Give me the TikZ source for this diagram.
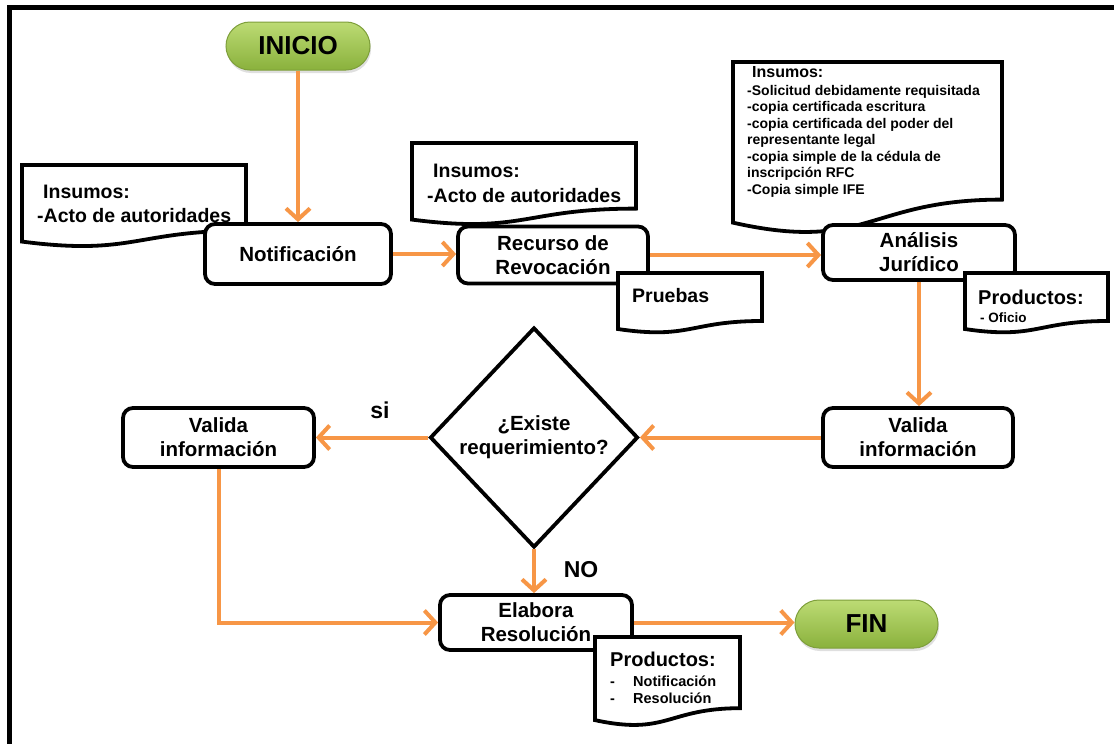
\documentclass[tikz,border=0pt]{standalone}
\usepackage{fontspec}
\setmainfont{Liberation Sans}
\usetikzlibrary{arrows.meta,shapes.geometric,shapes.misc,shadows}
\definecolor{flowarrow}{HTML}{F79646}
\definecolor{pilltop}{HTML}{BCDB74}
\definecolor{pillbot}{HTML}{8AB13C}
\definecolor{pilledge}{HTML}{7E9F3B}

% flowchart "document" shape: left x, top y, right x, height
\newcommand{\flowdoc}[4]{%
  \filldraw[docline] (#1,#2) -- (#3,#2) -- (#3,{#2+0.80*#4})
    .. controls ({(#1+#3)/2},{#2+0.80*#4}) and ({(#1+#3)/2},{#2+1.11*#4})
    .. (#1,{#2+0.934*#4}) -- cycle;}

\begin{document}
\begin{tikzpicture}[x=1pt,y=-1pt,
  docline/.style={draw=black, fill=white, line width=3.8pt, line join=miter},
  proc/.style={draw=black, line width=3.8pt, rounded corners=10pt, fill=white,
    align=center, inner sep=0pt, font=\fontsize{20.5}{24}\selectfont\bfseries},
  pill/.style={rounded rectangle, draw=pilledge, line width=1pt,
    top color=pilltop, bottom color=pillbot, inner sep=0pt,
    minimum height=48pt, font=\fontsize{26}{30}\selectfont\bfseries,
    drop shadow={opacity=0.25, shadow xshift=1pt, shadow yshift=-3pt}},
  decision/.style={diamond, draw=black, line width=3.8pt, fill=white,
    inner sep=0pt, minimum width=208pt, minimum height=220pt, align=center,
    font=\fontsize{20.5}{24}\selectfont\bfseries},
  flow/.style={draw=flowarrow, line width=4pt,
    -{Straight Barb[length=11pt,width=24pt]}},
  doctxt/.style={anchor=base west, inner sep=0pt,
    font=\fontsize{19.5}{24}\selectfont\bfseries},
  smalltxt/.style={anchor=base west, inner sep=0pt,
    font=\fontsize{14}{16}\selectfont\bfseries},
  tag/.style={inner sep=0pt, font=\fontsize{23}{26}\selectfont\bfseries}]

\useasboundingbox (0,0) rectangle (1114,744);
\clip (0,0) rectangle (1114,744);
\fill[white] (0,0) rectangle (1114,744);

% outer frame
\draw[line width=5pt] (9.5,7.5) rectangle (1130,770);

% input documents lying under the process boxes
\flowdoc{22}{165}{246}{82}
\node[doctxt] (ins1a) at (43,198) {Insumos:};
\node[doctxt] (ins1b) at (37,222) {-Acto de autoridades};

\flowdoc{412}{143}{636}{82}
\node[doctxt] (ins2a) at (433,177) {Insumos:};
\node[doctxt] (ins2b) at (427,202) {-Acto de autoridades};

\flowdoc{733}{62}{1002}{172}
\node[anchor=base west, inner sep=0pt, font=\fontsize{16}{18}\selectfont\bfseries]
  (ins3) at (752,77) {Insumos:};
\foreach \t [count=\i] in {-Solicitud debidamente requisitada,
    -copia certificada escritura, -copia certificada del poder del,
    representante legal, -copia simple de la cédula de,
    inscripción RFC, -Copia simple IFE}
  \node[smalltxt] (ins3-\i) at (747,{78.5+16.5*\i}) {\t};

% terminals
\node[pill, minimum width=144pt] (inicio) at (298,46) {INICIO};
\node[pill, minimum width=143pt] (fin) at (866.5,624) {FIN};

% process steps
\node[proc, minimum width=186pt, minimum height=60pt] (noti) at (298,254) {Notificación};
\node[proc, minimum width=190pt, minimum height=57pt] (recurso) at (553,255) {Recurso de\\Revocación};
\node[proc, minimum width=192pt, minimum height=55pt] (analisis) at (919,252.5) {Análisis\\Jurídico};
\node[proc, minimum width=190pt, minimum height=59pt] (valR) at (918,437.5) {Valida\\información};
\node[decision] (dec) at (534,437.5) {¿Existe\\requerimiento?};
\node[proc, minimum width=191pt, minimum height=59pt] (valL) at (218.5,437.5) {Valida\\información};
\node[proc, minimum width=192pt, minimum height=55pt] (elabora) at (536,622.5) {Elabora\\Resolución};

% documents lying over the process boxes
\flowdoc{618}{273}{762}{60}
\node[doctxt] (pruebas) at (632,302) {Pruebas};

\flowdoc{965}{273}{1108}{60}
\node[doctxt, font=\fontsize{20}{24}\selectfont\bfseries] (prod1a) at (978,304) {Productos:};
\node[anchor=base west, inner sep=0pt, font=\fontsize{13.5}{16}\selectfont\bfseries]
  (prod1b) at (980,322) {- Oficio};

\flowdoc{595}{637}{740}{89}
\node[doctxt, font=\fontsize{20}{24}\selectfont\bfseries] (prod2a) at (610,666) {Productos:};
\node[anchor=base west, inner sep=0pt, font=\fontsize{14.5}{16}\selectfont\bfseries]
  (prod2b) at (610,686) {-};
\node[anchor=base west, inner sep=0pt, font=\fontsize{14.5}{16}\selectfont\bfseries]
  (prod2c) at (633,686) {Notificación};
\node[anchor=base west, inner sep=0pt, font=\fontsize{14.5}{16}\selectfont\bfseries]
  (prod2d) at (610,703) {-};
\node[anchor=base west, inner sep=0pt, font=\fontsize{14.5}{16}\selectfont\bfseries]
  (prod2e) at (633,703) {Resolución};

% connectors
\draw[flow] (inicio.south) -- (noti.north);
\draw[flow] (noti.east) -- (noti.east -| recurso.west);
\draw[flow] (recurso.east) -- (recurso.east -| analisis.west);
\draw[flow] (analisis.south) -- (analisis.south |- valR.north);
\draw[flow] (valR.west) -- (dec.east);
\draw[flow] (dec.west) -- (valL.east);
\draw[flow] (valL.south) |- (elabora.west);
\draw[flow] (dec.south) -- (dec.south |- elabora.north);
\draw[flow] (elabora.east) -- (elabora.east -| fin.west);

% branch labels
\node[tag] (si) at (380,410) {si};
\node[tag] (no) at (581,570) {NO};
\end{tikzpicture}
\end{document}
